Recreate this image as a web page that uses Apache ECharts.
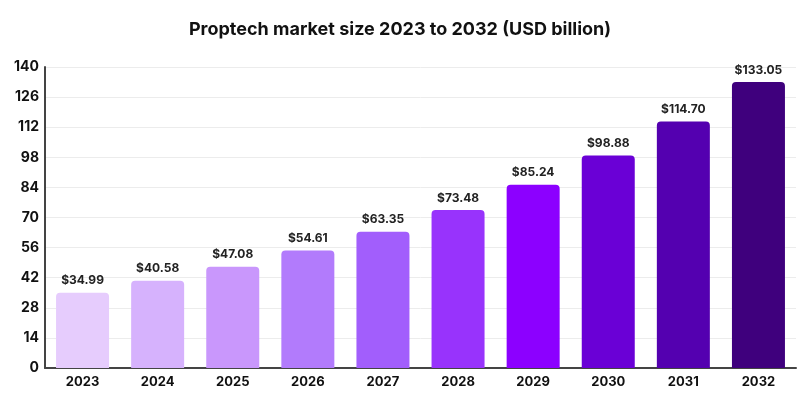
<!DOCTYPE html>
<html>
<head>
<meta charset="utf-8">
<script src="https://cdn.jsdelivr.net/npm/echarts@6/dist/echarts.min.js"></script>
<style>html,body{margin:0;padding:0;background:#fff}#c{width:800px;height:400px}</style>
</head>
<body>
<div id="c"></div>
<script>
const years = ['2023','2024','2025','2026','2027','2028','2029','2030','2031','2032'];
const marketSize = [34.99, 40.58, 47.08, 54.61, 63.35, 73.48, 85.24, 98.88, 114.70, 133.05];
const barColors = ['#e6ccfd','#d6b2fd','#c997fc','#b27bfc','#a25efc','#9833fc','#8c00ff','#6a00d6','#5400b0','#3f007d'];
const yTicks = [0,14,28,42,56,70,84,98,112,126,140];

const chart = echarts.init(document.getElementById('c'));
chart.setOption({
  backgroundColor: '#fff',
  animation: false,
  title: {
    text: 'Proptech market size 2023 to 2032 (USD billion)',
    left: 'center', top: 16,
    textStyle: { fontFamily: 'Inter', fontWeight: 'bold', fontSize: 18, color: '#111' }
  },
  grid: { left: 45, right: 4, top: 67, bottom: 32, containLabel: false },
  xAxis: {
    type: 'category',
    data: years,
    axisLine: { lineStyle: { color: '#444', width: 2 } },
    axisTick: { show: false },
    axisLabel: { fontFamily: 'Inter', fontWeight: 'bold', fontSize: 13, color: '#111', margin: 8 }
  },
  yAxis: {
    type: 'value',
    min: yTicks[0], max: yTicks[yTicks.length - 1], interval: 14,
    axisLine: { show: true, lineStyle: { color: '#444', width: 2 } },
    axisTick: { show: false },
    axisLabel: { fontFamily: 'Inter', fontWeight: 'bold', fontSize: 14, color: '#111', margin: 6 },
    splitLine: { lineStyle: { color: '#ececec', width: 1 } }
  },
  series: [{
    type: 'bar',
    barWidth: 53,
    data: marketSize.map((v, i) => ({ value: v, itemStyle: { color: barColors[i] } })),
    itemStyle: { borderRadius: [4, 4, 0, 0] },
    label: {
      show: true, position: 'top', distance: 6,
      fontFamily: 'Inter', fontWeight: 'bold', fontSize: 12, color: '#222',
      formatter: p => '$' + p.value.toFixed(2)
    }
  }]
});
</script>
</body>
</html>
